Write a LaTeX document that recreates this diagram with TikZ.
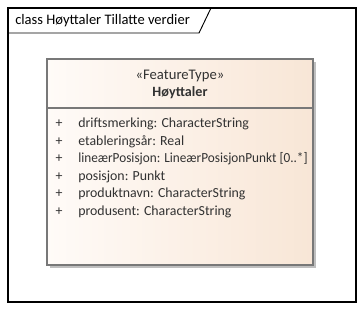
\documentclass[tikz,border=0pt]{standalone}
\usepackage{fontspec}
\usepackage{graphicx}
\setmainfont{Carlito}
\usetikzlibrary{positioning,shadows}
\definecolor{classLight}{RGB}{255,251,248}
\definecolor{classDark}{RGB}{248,230,214}
\definecolor{classLine}{RGB}{120,120,120}
\definecolor{textGray}{RGB}{50,50,50}

\begin{document}
\begin{tikzpicture}[x=0.75pt,y=-0.75pt,font=\fontsize{10.4}{12}\selectfont]
            \useasboundingbox (0,0) rectangle (364,310);
            % diagram frame with its name tab
            \draw[line width=1.3pt] (8,8) rectangle (356,302);
            \draw[line width=0.7pt] (8,33) -- (199,33) -- (211,8);
            \node[anchor=west, inner sep=0pt, font=\fontsize{10.9}{12}\selectfont] (title) at (15,21) {class Høyttaler Tillatte verdier};
            % the class box
            \node[draw=classLine, line width=0.8pt, left color=classLight, right color=classDark,
                  drop shadow={shadow xshift=2.2pt, shadow yshift=-2.2pt, fill=black!25, opacity=1},
                  minimum width=199.5pt, minimum height=154.5pt, inner sep=0pt] (cls) at (180,162) {};
            \node[draw=classLine, line width=0.8pt, minimum width=199.5pt, minimum height=36.75pt,
                  anchor=north, inner sep=0pt] (head) at (cls.north) {};
            \node[text=textGray, font=\fontsize{11}{12}\selectfont] (stereo) at (180,76) {«FeatureType»};
            \node[text=textGray, font=\fontsize{10.6}{12}\selectfont\bfseries] (name) at (180,93) {Høyttaler};
            % attributes, the long one squeezed to stay inside the box
            \foreach \attr [count=\i] in {driftsmerking: CharacterString, etableringsår: Real,
                    \scalebox{0.955}[1]{lineærPosisjon: LineærPosisjonPunkt [0..*]}, posisjon: Punkt,
                    produktnavn: CharacterString, produsent: CharacterString} {
                \node[text=textGray, inner sep=0pt] (plus\i) at (59,106.5+17.5*\i) {+};
                \node[text=textGray, anchor=west, inner sep=0pt] (attr\i) at (78,106.5+17.5*\i) {\attr};
            }
        \end{tikzpicture}
\end{document}
